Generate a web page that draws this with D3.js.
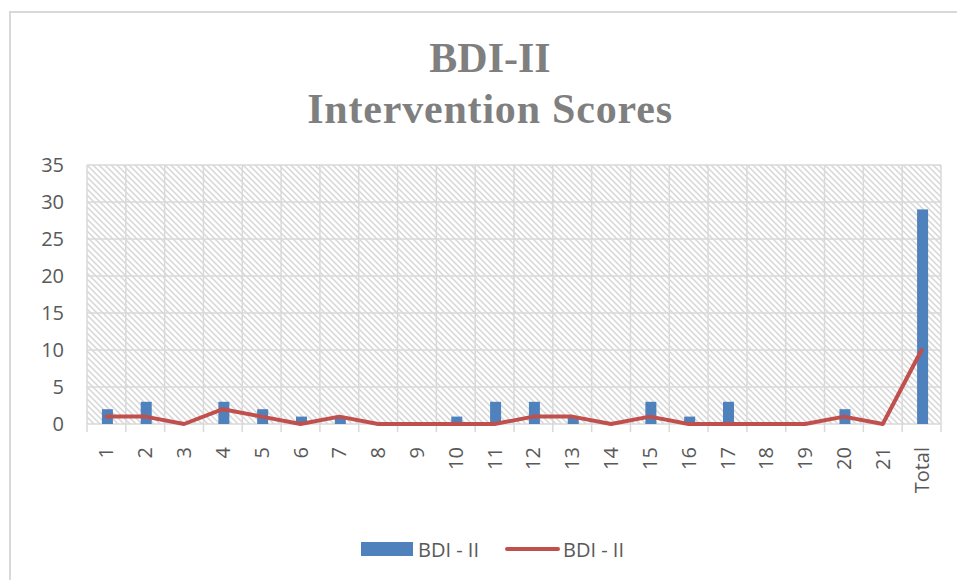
<!DOCTYPE html>
<html>
<head>
<meta charset="utf-8">
<script src="https://cdn.jsdelivr.net/npm/d3@7"></script>
<style>
  body { margin: 0; background: #fff; }
  svg { display: block; font-family: 'Open Sans', sans-serif; }
</style>
</head>
<body>
<svg width="957" height="580"></svg>
<script>
  // chart values
  const categories = ['1', '2', '3', '4', '5', '6', '7', '8', '9', '10', '11',
    '12', '13', '14', '15', '16', '17', '18', '19', '20', '21', 'Total'];
  const barValues = [2, 3, 0, 3, 2, 1, 1, 0, 0, 1, 3, 3, 1, 0, 3, 1, 3, 0, 0, 2, 0, 29];
  const lineValues = [1, 1, 0, 2, 1, 0, 1, 0, 0, 0, 0, 1, 1, 0, 1, 0, 0, 0, 0, 1, 0, 10];
  const yTicks = [0, 5, 10, 15, 20, 25, 30, 35];
  const seriesNames = ['BDI - II', 'BDI - II'];
  const titleLines = ['BDI-II', 'Intervention Scores'];

  const svg = d3.select('svg');
  const textColor = '#595959';
  const gridColor = '#d9d9d9';
  const barColor = '#4f81bd';
  const lineColor = '#c0504d';

  const plot = { left: 87, right: 941, top: 165, bottom: 424 };

  // hatch pattern for the plot area
  const defs = svg.append('defs');
  const pat = defs.append('pattern')
    .attr('id', 'hatch')
    .attr('patternUnits', 'userSpaceOnUse')
    .attr('width', 6)
    .attr('height', 6);
  pat.append('rect').attr('width', 6).attr('height', 6).attr('fill', '#fff');
  pat.append('path')
    .attr('d', 'M-1,-1 L7,7 M-1,5 L1,7 M5,-1 L7,1')
    .attr('stroke', '#d6d6d6')
    .attr('stroke-width', 1.5);

  // outer chart border
  svg.append('rect')
    .attr('x', 10).attr('y', 12)
    .attr('width', 980).attr('height', 620)
    .attr('fill', 'none')
    .attr('stroke', gridColor)
    .attr('stroke-width', 2);

  // title
  const title = svg.append('text')
    .attr('text-anchor', 'middle')
    .attr('fill', '#7f7f7f')
    .attr('font-family', "'Liberation Serif', serif")
    .attr('font-weight', 'bold')
    .attr('font-size', 42);
  title.append('tspan').attr('x', 490).attr('y', 72).text(titleLines[0]);
  title.append('tspan').attr('x', 490).attr('y', 123)
    .attr('letter-spacing', 0.8)
    .text(titleLines[1]);

  const x = d3.scaleBand()
    .domain(categories)
    .range([plot.left, plot.right]);

  const y = d3.scaleLinear()
    .domain([0, 35])
    .range([plot.bottom, plot.top]);

  // plot background
  svg.append('rect')
    .attr('x', plot.left).attr('y', plot.top)
    .attr('width', plot.right - plot.left)
    .attr('height', plot.bottom - plot.top)
    .attr('fill', 'url(#hatch)');

  // gridlines
  const grid = svg.append('g')
    .attr('stroke', gridColor)
    .attr('stroke-width', 1.5);
  grid.selectAll('.hgrid').data(yTicks)
    .enter().append('line')
      .attr('x1', plot.left).attr('x2', plot.right)
      .attr('y1', d => y(d)).attr('y2', d => y(d));
  const bounds = categories.map(c => x(c)).concat([plot.right]);
  grid.selectAll('.vgrid').data(bounds)
    .enter().append('line')
      .attr('x1', d => d).attr('x2', d => d)
      .attr('y1', plot.top).attr('y2', plot.bottom + 8); // runs past the axis as the tick mark

  // y axis labels
  const yAxis = d3.axisLeft(y)
    .tickValues(yTicks)
    .tickSize(0)
    .tickPadding(23);
  svg.append('g')
    .attr('transform', `translate(${plot.left},0)`)
    .call(yAxis)
    .call(g => g.select('.domain').remove())
    .selectAll('text')
      .attr('fill', textColor)
      .attr('font-size', 20)
      .attr('font-family', "'Open Sans', sans-serif");

  // x axis labels, rotated
  const xAxis = d3.axisBottom(x).tickSize(0);
  svg.append('g')
    .attr('transform', `translate(0,${plot.bottom})`)
    .call(xAxis)
    .call(g => g.select('.domain').remove())
    .selectAll('text')
      .attr('fill', textColor)
      .attr('font-size', 20)
      .attr('font-family', "'Open Sans', sans-serif")
      .attr('text-anchor', 'end')
      .attr('transform', 'rotate(-90)')
      .attr('x', -23)
      .attr('y', 0)
      .attr('dy', '0.35em');

  // bars
  const barW = 11;
  svg.append('g').selectAll('rect').data(categories)
    .enter().append('rect')
      .attr('x', d => x(d) + x.bandwidth() / 2 - barW / 2 + 1)
      .attr('y', (d, i) => y(barValues[i]))
      .attr('width', barW)
      .attr('height', (d, i) => y(0) - y(barValues[i]))
      .attr('fill', barColor);

  // line series
  const line = d3.line()
    .x(d => x(d[0]) + x.bandwidth() / 2)
    .y(d => y(d[1]));
  svg.append('path')
    .datum(categories.map((c, i) => [c, lineValues[i]]))
    .attr('d', line)
    .attr('fill', 'none')
    .attr('stroke', lineColor)
    .attr('stroke-width', 4)
    .attr('stroke-linejoin', 'round')
    .attr('stroke-linecap', 'round');

  // legend
  const legend = svg.append('g')
    .attr('font-size', 20)
    .attr('fill', textColor);
  legend.append('rect')
    .attr('x', 361).attr('y', 542)
    .attr('width', 52).attr('height', 14)
    .attr('fill', barColor);
  legend.append('text')
    .attr('x', 418).attr('y', 557)
    .text(seriesNames[0]);
  legend.append('line')
    .attr('x1', 507).attr('x2', 558)
    .attr('y1', 549).attr('y2', 549)
    .attr('stroke', lineColor)
    .attr('stroke-width', 4)
    .attr('stroke-linecap', 'round');
  legend.append('text')
    .attr('x', 563).attr('y', 557)
    .text(seriesNames[1]);
</script>
</body>
</html>
